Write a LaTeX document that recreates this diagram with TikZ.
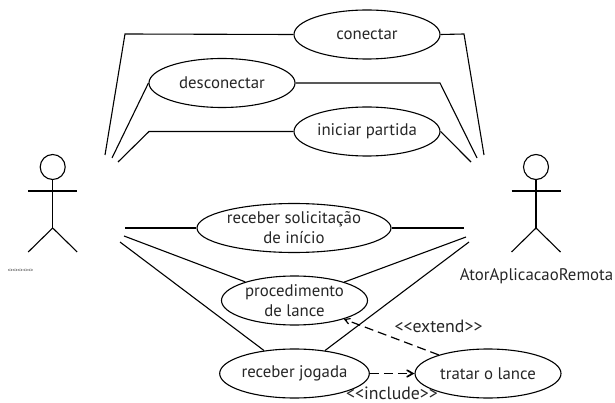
\documentclass[tikz,border=0pt]{standalone}
\usepackage{fontspec}
\setmainfont{PT Sans}
\usetikzlibrary{arrows,shapes.geometric}

\tikzset{
  usecase/.style={draw,ellipse,line width=1.1pt,minimum width=146pt,minimum height=49pt,inner sep=0pt,align=center,font=\fontsize{16.8}{20}\selectfont,text=black!85},
  assoc/.style={line width=1.1pt},
  dep/.style={line width=1.2pt,dash pattern=on 9pt off 5pt,->,>=angle 60},
  tag/.style={font=\fontsize{16.8}{18}\selectfont,text=black!85,inner sep=0pt},
  stereo/.style={tag,font=\fontsize{17.8}{18}\selectfont}
}

\begin{document}
\begin{tikzpicture}[x=1pt,y=-1pt]
  \useasboundingbox (0,0) rectangle (615,403);

  \node[usecase] (conectar) at (367,34.5) {conectar};
  \node[usecase] (desconectar) at (222,83) {desconectar};
  \node[usecase] (iniciar) at (367,131.5) {iniciar partida};
  \node[usecase,minimum width=194pt] (solicitacao) at (294,228) {receber solicitação\\de início};
  \node[usecase] (procedimento) at (294.5,300.5) {procedimento\\de lance};
  \node[usecase] (jogada) at (294.5,373.5) {receber jogada};
  \node[usecase] (tratar) at (488,373.5) {tratar o lance};

  % atores
  \foreach \name/\cx in {esq/52.7,dir/536} {
    \node[draw,circle,line width=1.1pt,minimum size=25pt,inner sep=0pt] (head\name) at (\cx,167) {};
    \coordinate (hip\name) at (\cx,228);
    \coordinate (armL\name) at (\cx-24.5,191);
    \coordinate (armR\name) at (\cx+24.5,191);
    \coordinate (legL\name) at (\cx-24.5,252);
    \coordinate (legR\name) at (\cx+24.5,252);
    \draw[assoc] (head\name) -- (hip\name) (armL\name) -- (armR\name);
    \draw[assoc] (legL\name) -- (hip\name) -- (legR\name);
  }
  \node[tag,font=\fontsize{9.5}{10}\selectfont,text=black!70,yscale=0.45,transform shape] (nomeesq) at (20.5,270) {ooooo};
  \node[tag] (nomedir) at (536.5,276) {AtorAplicacaoRemota};

  % pontas livres
  \coordinate (a1) at (105,155);
  \coordinate (a2) at (112,158);
  \coordinate (a3) at (118,162);
  \coordinate (a4) at (125,228);
  \coordinate (a5) at (124,236);
  \coordinate (a6) at (120,242);
  \coordinate (b1) at (484,155);
  \coordinate (b2) at (477,158);
  \coordinate (b3) at (471,162);
  \coordinate (b4) at (464,228);
  \coordinate (b5) at (466,237);
  \coordinate (b6) at (469,242);

  \draw[assoc] (a1) -- (125,34) -- (conectar.west);
  \draw[assoc] (conectar.east) -- (464,34) -- (b1);
  \draw[assoc] (a2) -- (desconectar.west);
  \draw[assoc] (desconectar.east) -- (440,83) -- (b2);
  \draw[assoc] (a3) -- (149,131.5) -- (iniciar.west);
  \draw[assoc] (iniciar.east) -- (b3);
  \draw[assoc] (a4) -- (solicitacao.west);
  \draw[assoc] (solicitacao.east) -- (b4);
  \draw[assoc] (a5) -- (procedimento);
  \draw[assoc] (procedimento) -- (b5);
  \draw[assoc] (a6) -- (jogada);
  \draw[assoc] (jogada) -- (b6);

  \draw[dep] (tratar) -- (procedimento);
  \draw[dep,line width=1.7pt] (jogada) -- (tratar);

  \node[stereo] (extend) at (438.5,326) {<{}<extend>{}>};
  \node[stereo] (include) at (392,393) {<{}<include>{}>};
\end{tikzpicture}
\end{document}
